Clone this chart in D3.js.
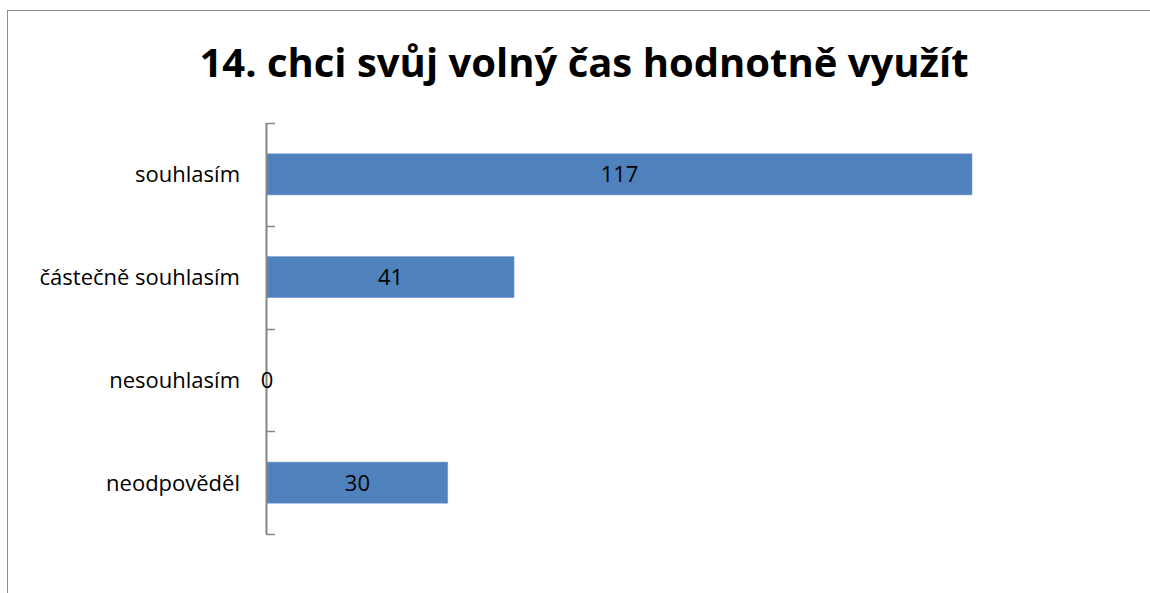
<!DOCTYPE html>
<html>
<head>
<meta charset="utf-8">
<script src="https://cdn.jsdelivr.net/npm/d3@7"></script>
<style>
body { margin: 0; background: #ffffff; }
text { font-family: "Open Sans", "Noto Sans", sans-serif; }
</style>
</head>
<body>
<div id="chart"></div>
<script>
// ----------------------------------------------------------
// DATA -----------------------------------------------------
// ----------------------------------------------------------
var categories = ["souhlasím", "částečně souhlasím", "nesouhlasím", "neodpověděl"];
var values = [117, 41, 0, 30];
var title_text = "14. chci svůj volný čas hodnotně využít";

// ----------------------------------------------------------
// STRUCTURE ------------------------------------------------
// ----------------------------------------------------------
var width = 1150, height = 593;
var plot = { left: 267, top: 123, bottom: 534 };

var svg = d3.select("#chart").append("svg")
.attr("width", width)
.attr("height", height)
.style("display", "block");

// frame of the chart area (left and top edges visible)
svg.append("rect")
.attr("x", 7.5)
.attr("y", 10.5)
.attr("width", 1200)
.attr("height", 700)
.attr("fill", "none")
.attr("stroke", "#8c8c8c")
.attr("stroke-width", 1);

// ----------------------------------------------------------
// SCALES ---------------------------------------------------
// ----------------------------------------------------------
var xScale = d3.scaleLinear()
.domain([0, 117])
.range([plot.left, 972]);

var yScale = d3.scaleBand()
.domain(categories)
.range([plot.top, plot.bottom])
.paddingInner(0.6)
.paddingOuter(0.3);

var step = yScale.step();
var rows = categories.map(function(c, i) { return { cat: c, val: values[i] }; });

// ----------------------------------------------------------
// BARS -----------------------------------------------------
// ----------------------------------------------------------
svg.append("g").selectAll("rect")
.data(rows)
.enter()
.append("rect")
.attr("x", xScale(0))
.attr("y", function(d) { return yScale(d.cat); })
.attr("width", function(d) { return xScale(d.val) - xScale(0); })
.attr("height", yScale.bandwidth())
.attr("fill", "#4f81bd")
.attr("stroke", "#7a9fd0")
.attr("stroke-width", function(d) { return d.val > 0 ? 0.6 : 0; });

// ----------------------------------------------------------
// AXIS -----------------------------------------------------
// ----------------------------------------------------------
var axis_g = svg.append("g");
axis_g.append("line")
.attr("x1", plot.left - 0.5).attr("x2", plot.left - 0.5)
.attr("y1", plot.top).attr("y2", plot.bottom + 0.5)
.attr("stroke", "#868686").attr("stroke-width", 2);
axis_g.selectAll(".tick")
.data(d3.range(categories.length + 1))
.enter()
.append("line")
.attr("class", "tick")
.attr("x1", plot.left - 1).attr("x2", plot.left + 8)
.attr("y1", function(i) { return Math.round(plot.top + i * step) + 0.5; })
.attr("y2", function(i) { return Math.round(plot.top + i * step) + 0.5; })
.attr("stroke", "#868686").attr("stroke-width", 1.5);

// category labels
svg.append("g").selectAll("text")
.data(rows)
.enter()
.append("text")
.attr("x", 240)
.attr("y", function(d) { return yScale(d.cat) + yScale.bandwidth() / 2; })
.attr("dy", "0.36em")
.attr("text-anchor", "end")
.style("font-size", "22px")
.style("fill", "#000")
.text(function(d) { return d.cat; });

// value labels
svg.append("g").selectAll("text")
.data(rows)
.enter()
.append("text")
.attr("x", function(d) { return (xScale(0) + xScale(d.val)) / 2; })
.attr("y", function(d) { return yScale(d.cat) + yScale.bandwidth() / 2; })
.attr("dy", "0.36em")
.attr("text-anchor", "middle")
.style("font-size", "22px")
.style("fill", "#000")
.text(function(d) { return d.val; });

// ----------------------------------------------------------
// TEXT -----------------------------------------------------
// ----------------------------------------------------------
svg.append("text")
.attr("x", 584)
.attr("y", 77)
.attr("text-anchor", "middle")
.style("font-size", "40px")
.style("font-weight", "bold")
.style("fill", "#000")
.text(title_text);
</script>
</body>
</html>
